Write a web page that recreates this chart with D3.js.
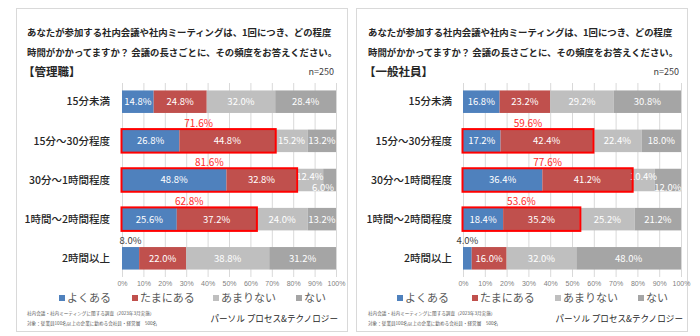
<!DOCTYPE html>
<html><head><meta charset="utf-8">
<script src="https://cdn.jsdelivr.net/npm/d3@7"></script>
<style>
body{margin:0;background:#fff}
svg{display:block;font-family:"Noto Sans CJK JP","Noto Sans",sans-serif}
</style>
</head><body>
<svg id="c" width="700" height="336"></svg>
<script>
// ---------- data ----------
const categories = ["15分未満", "15分～30分程度", "30分～1時間程度", "1時間～2時間程度", "2時間以上"];
const seriesNames = ["よくある", "たまにある", "あまりない", "ない"];
const titleLines = ["あなたが参加する社内会議や社内ミーティングは、1回につき、どの程度",
                    "時間がかかってますか？ 会議の長さごとに、その頻度をお答えください。"];
const managerLabel = "【管理職】";
const staffLabel = "【一般社員】";
const sampleSize = "n=250";
const mgrOften     = [14.8, 26.8, 48.8, 25.6, 8.0];
const mgrSometimes = [24.8, 44.8, 32.8, 37.2, 22.0];
const mgrRarely    = [32.0, 15.2, 12.4, 24.0, 38.8];
const mgrNever     = [28.4, 13.2, 6.0, 13.2, 31.2];
const staffOften     = [16.8, 17.2, 36.4, 18.4, 4.0];
const staffSometimes = [23.2, 42.4, 41.2, 35.2, 16.0];
const staffRarely    = [29.2, 22.4, 10.4, 25.2, 32.0];
const staffNever     = [30.8, 18.0, 12.0, 21.2, 48.0];
const highlighted = ["15分～30分程度", "30分～1時間程度", "1時間～2時間程度"];
const tickValues = [0, 10, 20, 30, 40, 50, 60, 70, 80, 90, 100];
const footnotes = ["社内会議・社内ミーティングに関する調査（2023年3月実施）",
                   "対象：従業員100名以上の企業に勤める会社員・経営層　500名"];
const companyName = "パーソル プロセス&テクノロジー";

// ---------- styles ----------
const colors = ["#4F81BD", "#C0504D", "#BFBFBF", "#A5A5A5"];
const svg = d3.select("#c");
svg.append("rect").attr("width", 700).attr("height", 336).attr("fill", "#fff");

const panels = [
  {ox: 0,   bx: 16.5,  x0: 122, x1: 336, labelX: 110, group: managerLabel,
   series: [mgrOften, mgrSometimes, mgrRarely, mgrNever], legendX: [59, 132, 213, 296]},
  {ox: 341, bx: 356.5, x0: 463, x1: 681, labelX: 452, group: staffLabel,
   series: [staffOften, staffSometimes, staffRarely, staffNever], legendX: [397, 472, 555, 638]}
];

panels.forEach(p => {
  const g = svg.append("g");
  g.append("rect").attr("x", p.bx).attr("y", 8.5).attr("width", 331).attr("height", 323)
    .attr("fill", "none").attr("stroke", "#D9D9D9").attr("stroke-width", 1);

  // titles
  titleLines.forEach((t, i) => {
    g.append("text").attr("x", 27 + p.ox).attr("y", 35.5 + i * 20)
      .attr("font-size", 9.4).attr("font-weight", 700).attr("fill", "#262626").text(t);
  });
  g.append("text").attr("x", 23 + p.ox).attr("y", 75.5).attr("font-size", 11.5)
    .attr("font-weight", 700).attr("fill", "#262626").text(p.group);
  g.append("text").attr("x", p.x1 - 2).attr("y", 74.5).attr("font-size", 9)
    .attr("text-anchor", "end").attr("fill", "#404040").text(sampleSize);

  const x = d3.scaleLinear().domain([0, 100]).range([p.x0, p.x1]);
  const y = d3.scaleBand().domain(categories).range([83, 277]).paddingInner(0.425).paddingOuter(0.19);

  // axis with gridlines
  const ax = g.append("g").attr("transform", "translate(0,83)")
    .call(d3.axisBottom(x).tickValues(tickValues).tickFormat(d => d + "%").tickSize(194).tickPadding(4));
  ax.select(".domain").remove();
  ax.selectAll("line").attr("stroke", "#D9D9D9");
  ax.selectAll("text").attr("font-size", 7).attr("fill", "#7F7F7F").attr("font-family", "inherit");

  // category labels
  g.selectAll(".cat").data(categories).join("text")
    .attr("x", p.labelX).attr("y", d => y(d) + y.bandwidth() / 2).attr("dy", "0.36em")
    .attr("text-anchor", "end").attr("font-size", 10.5).attr("font-weight", 500)
    .attr("fill", "#262626").text(d => d);

  // stacked bars
  categories.forEach((c, i) => {
    let acc = 0;
    const vals = p.series.map(s => s[i]);
    const segs = vals.map(v => { const s = {v, a: acc, b: acc + v}; acc += v; return s; });
    const narrow = (x(segs[2].b) - x(segs[2].a) < 25) || (x(segs[3].b) - x(segs[3].a) < 25);
    const by = y(c), bh = y.bandwidth(), cy = by + bh / 2;
    segs.forEach((s, k) => {
      g.append("rect").attr("x", x(s.a)).attr("y", by).attr("width", x(s.b) - x(s.a))
        .attr("height", bh).attr("fill", colors[k]);
    });
    segs.forEach((s, k) => {
      const w = x(s.b) - x(s.a);
      let tx = (x(s.a) + x(s.b)) / 2, ty = cy, fill = "#fff";
      if (k === 0 && w < 20) { ty = by - 6; fill = "#404040"; }
      if (narrow && k === 2) { ty = cy - 3.5; }
      if (narrow && k === 3) { ty = cy + 8; tx = Math.min(tx, x(100) - 13); }
      g.append("text").attr("x", tx).attr("y", ty).attr("dy", "0.36em")
        .attr("text-anchor", "middle").attr("font-size", 9.5).attr("fill", fill)
        .text(s.v.toFixed(1) + "%");
    });
    if (highlighted.includes(c)) {
      const sum = vals[0] + vals[1];
      g.append("rect").attr("x", x(0) - 0.5).attr("y", by - 0.5)
        .attr("width", x(sum) - x(0) + 1).attr("height", bh + 1)
        .attr("fill", "none").attr("stroke", "#FF0000").attr("stroke-width", 2);
      g.append("text").attr("x", (x(0) + x(sum)) / 2).attr("y", by - 6).attr("dy", "0.36em")
        .attr("text-anchor", "middle").attr("font-size", 10).attr("fill", "#FF2B2B")
        .text(sum.toFixed(1) + "%");
    }
  });

  // legend
  seriesNames.forEach((n, k) => {
    g.append("rect").attr("x", p.legendX[k]).attr("y", 295).attr("width", 6).attr("height", 6)
      .attr("fill", colors[k]);
    g.append("text").attr("x", p.legendX[k] + 8).attr("y", 298).attr("dy", "0.36em")
      .attr("font-size", 11).attr("fill", "#595959").text(n);
  });

  // footnotes
  footnotes.forEach((f, i) => {
    g.append("text").attr("x", 27 + p.ox).attr("y", 315 + i * 9.5).attr("font-size", 4.6)
      .attr("fill", "#595959").text(f);
  });
  g.append("text").attr("x", p.x1 + 2).attr("y", 322).attr("font-size", 8.6)
    .attr("text-anchor", "end").attr("fill", "#262626").text(companyName);
});
</script>
</body></html>
